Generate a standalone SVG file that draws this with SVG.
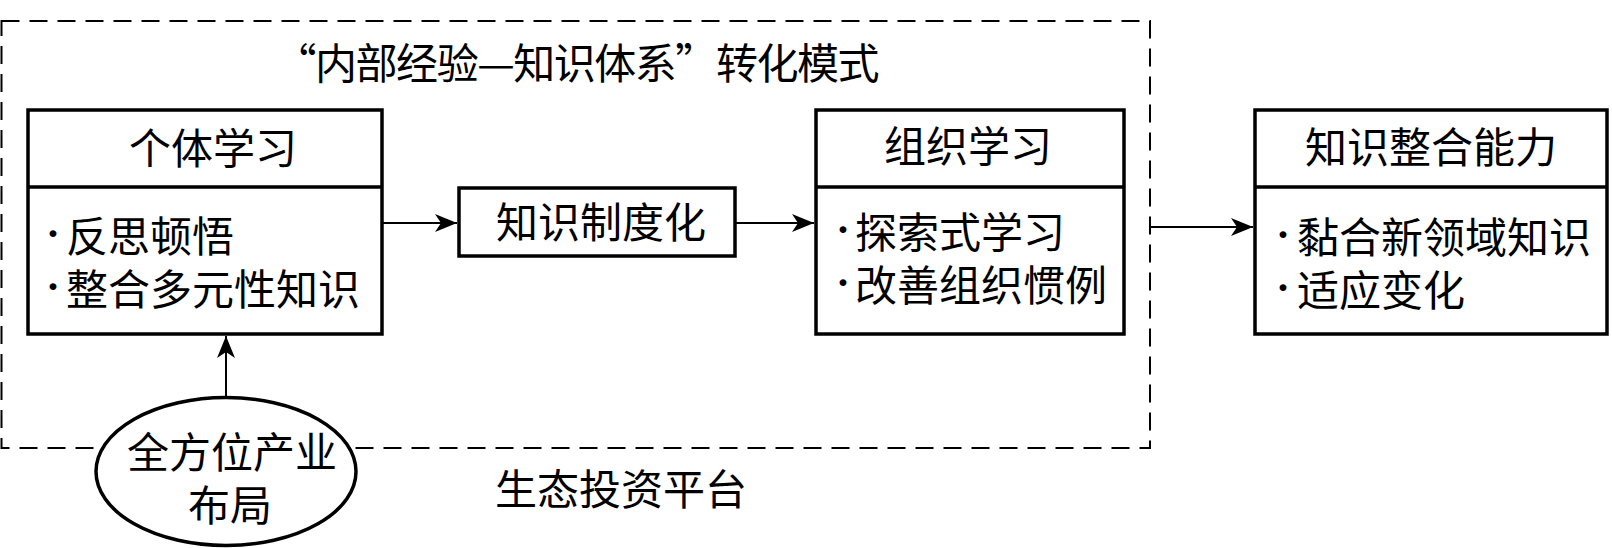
<svg xmlns="http://www.w3.org/2000/svg" width="1612" height="548" viewBox="0 0 1612 548">
<style>
text{font-family:"Noto Sans CJK SC","Liberation Serif",serif;font-size:42px;fill:#000}
.dot{font-family:"Liberation Serif",serif;text-anchor:middle;font-weight:bold}
.box{fill:#fff;stroke:#000;stroke-width:3.5}
.div{stroke:#000;stroke-width:3.5}
.conn{stroke:#000;stroke-width:2;fill:none}
.dash{fill:none;stroke:#000;stroke-width:2;stroke-dasharray:18 10}
.mid{text-anchor:middle}
</style>
<defs>
<marker id="arr" markerUnits="userSpaceOnUse" markerWidth="24" markerHeight="20" refX="22" refY="9" orient="auto" viewBox="0 0 24 20">
<path d="M0,0 L22,9 L0,18 L6,9 Z" fill="#000"/>
</marker>
</defs>
<rect fill="#fff" x="0" y="0" width="1612" height="548"/>
<g id="platform">
<rect class="dash" x="1.5" y="21" width="1148.5" height="427"/>
<text class="mid" x="577" y="79" font-size="40" textLength="605" lengthAdjust="spacing">“内部经验—知识体系”转化模式</text>
<text class="mid" x="621" y="505">生态投资平台</text>
</g>
<g id="connectors">
<line class="conn" x1="383" y1="223" x2="457" y2="223" marker-end="url(#arr)"/>
<line class="conn" x1="736" y1="223" x2="814" y2="223" marker-end="url(#arr)"/>
<line class="conn" x1="1150" y1="227" x2="1253" y2="227" marker-end="url(#arr)"/>
<line class="conn" x1="226" y1="397" x2="226" y2="336" marker-end="url(#arr)"/>
</g>
<g id="individual">
<rect class="box" x="28" y="110" width="354" height="224"/>
<line class="div" x1="28" y1="187" x2="382" y2="187"/>
<text class="mid" x="213" y="164">个体学习</text>
<text><tspan class="dot" x="53" y="248">·</tspan><tspan x="66" y="252">反思顿悟</tspan></text>
<text><tspan class="dot" x="53" y="301">·</tspan><tspan x="66" y="305">整合多元性知识</tspan></text>
</g>
<g id="institution">
<rect class="box" x="459" y="188" width="276" height="68"/>
<text class="mid" x="601" y="238">知识制度化</text>
</g>
<g id="organization">
<rect class="box" x="816" y="110" width="308" height="224"/>
<line class="div" x1="816" y1="187" x2="1124" y2="187"/>
<text class="mid" x="968" y="162">组织学习</text>
<text><tspan class="dot" x="843" y="244">·</tspan><tspan x="855" y="248">探索式学习</tspan></text>
<text><tspan class="dot" x="843" y="297">·</tspan><tspan x="855" y="301">改善组织惯例</tspan></text>
</g>
<g id="capability">
<rect class="box" x="1255" y="110" width="352" height="224"/>
<line class="div" x1="1255" y1="187" x2="1607" y2="187"/>
<text class="mid" x="1431" y="163">知识整合能力</text>
<text><tspan class="dot" x="1283" y="249">·</tspan><tspan x="1297" y="253">黏合新领域知识</tspan></text>
<text><tspan class="dot" x="1283" y="302">·</tspan><tspan x="1297" y="306">适应变化</tspan></text>
</g>
<g id="layout">
<ellipse cx="226" cy="471.5" rx="130" ry="74" fill="#fff" stroke="#000" stroke-width="3.5"/>
<text class="mid" x="232" y="468">全方位产业</text>
<text class="mid" x="230" y="521">布局</text>
</g>
</svg>
